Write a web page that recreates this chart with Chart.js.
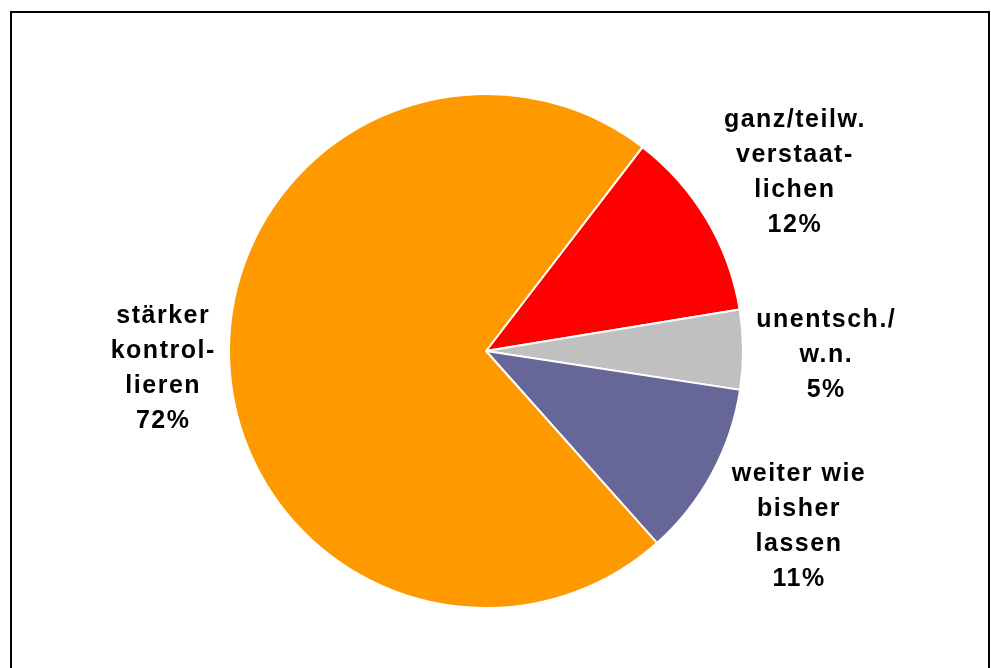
<!DOCTYPE html>
<html lang="de">
<head>
    <meta charset="UTF-8">
    <title>Banken: stärker kontrollieren?</title>
    <script src="https://cdn.jsdelivr.net/npm/chart.js"></script>
    <style>
        html, body {
            margin: 0;
            padding: 0;
            background: #fff;
            overflow: hidden;
        }
        .frame {
            position: absolute;
            left: 10px;
            top: 11px;
            width: 976px;
            height: 700px;
            border: 2px solid #000;
        }
        .chart-box {
            position: absolute;
            left: 0;
            top: 0;
            width: 991px;
            height: 668px;
        }
    </style>
</head>
<body>
    <div class="frame"></div>
    <div class="chart-box">
        <canvas id="pieChart"></canvas>
    </div>
    <script>
        // data
        var categories = [
            ['ganz/teilw.', 'verstaat-', 'lichen'],
            ['unentsch./', 'w.n.'],
            ['weiter wie', 'bisher', 'lassen'],
            ['stärker', 'kontrol-', 'lieren']
        ];
        var shares = [12, 5, 11, 72];
        var colors = ['#FF0000', '#C0C0C0', '#666699', '#FF9900'];

        var labelFont = 'bold 25px "Liberation Sans", Arial, sans-serif';
        var lineHeight = 35;

        // labels outside the slices, pushed out along the middle of each arc
        var outsideLabels = {
            id: 'outsideLabels',
            afterDatasetsDraw: function (chart) {
                var ctx = chart.ctx;
                var meta = chart.getDatasetMeta(0);
                ctx.save();
                ctx.font = labelFont;
                ctx.letterSpacing = '1.5px';
                ctx.fillStyle = '#000';
                ctx.textAlign = 'center';
                ctx.textBaseline = 'middle';
                meta.data.forEach(function (arc, i) {
                    var lines = categories[i].concat([shares[i] + '%']);
                    var mid = (arc.startAngle + arc.endAngle) / 2;
                    var ux = Math.cos(mid), uy = Math.sin(mid);
                    var w = 0;
                    lines.forEach(function (l) { w = Math.max(w, ctx.measureText(l).width); });
                    var h = lines.length * lineHeight;
                    // a bit more room for labels sitting straight left/right
                    var gap = 2 + 10 * Math.pow(Math.abs(ux), 8);
                    var d = arc.outerRadius + Math.abs(ux) * w / 2 + Math.abs(uy) * h / 2 + gap;
                    var cx = arc.x + ux * d;
                    var cy = arc.y + uy * d + 6;
                    lines.forEach(function (l, k) {
                        ctx.fillText(l, cx + 1, cy + (k - (lines.length - 1) / 2) * lineHeight);
                    });
                });
                ctx.restore();
            }
        };

        var ctx1 = document.getElementById('pieChart').getContext('2d');
        var pieChart = new Chart(ctx1, {
            type: 'pie',
            data: {
                labels: categories.map(function (c) { return c.join(' '); }),
                datasets: [{
                    data: shares,
                    backgroundColor: colors,
                    borderColor: '#fff',
                    borderWidth: 2,
                    hoverOffset: 0
                }]
            },
            options: {
                responsive: true,
                maintainAspectRatio: false,
                animation: false,
                rotation: 37.5,
                radius: 257,
                layout: {
                    padding: { top: 94, bottom: 60, left: 200, right: 219 }
                },
                plugins: {
                    legend: { display: false },
                    tooltip: { enabled: false }
                }
            },
            plugins: [outsideLabels]
        });
    </script>
</body>
</html>
